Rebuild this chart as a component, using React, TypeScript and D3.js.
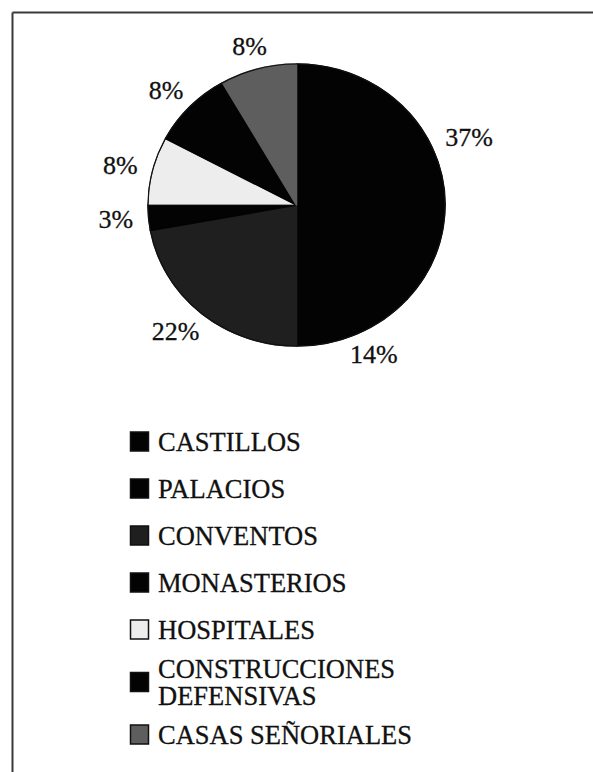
import React from "react";
import * as d3 from "d3";

const categories = [
  "CASTILLOS",
  "PALACIOS",
  "CONVENTOS",
  "MONASTERIOS",
  "HOSPITALES",
  "CONSTRUCCIONES DEFENSIVAS",
  "CASAS SEÑORIALES",
];
const values = [36.6, 13.4, 22.1, 2.9, 7.8, 8.9, 8.3];
const valueLabels = ["37%", "14%", "22%", "3%", "8%", "8%", "8%"];
const legendLines = [
  ["CASTILLOS"],
  ["PALACIOS"],
  ["CONVENTOS"],
  ["MONASTERIOS"],
  ["HOSPITALES"],
  ["CONSTRUCCIONES", "DEFENSIVAS"],
  ["CASAS SEÑORIALES"],
];
const colors = ["#030303", "#030303", "#1f1f1f", "#030303", "#ededed", "#030303", "#5e5e5e"];

const W = 593;
const H = 772;
const cx = 296.5;
const cy = 205;
const rx = 148.5;
const ry = 141;
const FONT = "'Liberation Serif', 'Times New Roman', serif";

export default function App() {
  const pie = d3.pie<number>().sort(null).value((d) => d)(values);
  const arc = d3.arc<d3.PieArcDatum<number>>().innerRadius(0).outerRadius(rx);
  const sy = ry / rx;

  const gapX = 16;
  const gapY = 12;
  const labels = pie.map((p, i) => {
    const a = (p.startAngle + p.endAngle) / 2;
    const s = Math.sin(a);
    const c = Math.cos(a);
    const halfW = valueLabels[i].length * 7.5 + 2;
    const halfH = 11;
    return {
      x: cx + s * (rx + gapX) + s * halfW,
      y: cy - c * (ry + gapY) - c * halfH,
      text: valueLabels[i],
    };
  });

  // legend layout
  const step = 47;
  const extraPerLine = 11;
  const legendY: number[] = [];
  let y = 441.5;
  legendLines.forEach((lines, i) => {
    if (i > 0) {
      const prevExtra = legendLines[i - 1].length - 1;
      const curExtra = lines.length - 1;
      y += step + 0.5 * (prevExtra + curExtra) * extraPerLine;
    }
    legendY.push(y);
  });
  const lineH = 27;

  return (
    <svg width={W} height={H} style={{ display: "block", position: "absolute", left: 0, top: 0 }}>
      <rect x={0} y={0} width={W} height={H} fill="#fff" />
      <line x1={12.5} y1={12.5} x2={W} y2={12.5} stroke="#3a3a3a" strokeWidth={2} />
      <line x1={12.5} y1={12.5} x2={12.5} y2={H} stroke="#3a3a3a" strokeWidth={2} />

      <g transform={`translate(${cx},${cy}) scale(1,${sy})`}>
        {pie.map((p, i) => (
          <path
            key={categories[i]}
            d={arc(p) || ""}
            fill={colors[i]}
            stroke={colors[i] === "#ededed" ? "#111" : colors[i]}
            strokeWidth={colors[i] === "#ededed" ? 0.8 : 1.6}
            strokeLinejoin="round"
            vectorEffect="non-scaling-stroke"
          />
        ))}
        <circle r={rx} fill="none" stroke="#111" strokeWidth={1.2} vectorEffect="non-scaling-stroke" />
      </g>

      {labels.map((l, i) => (
        <text
          key={i}
          x={l.x}
          y={l.y}
          textAnchor="middle"
          dominantBaseline="central"
          fontFamily={FONT}
          fontSize={26}
          fill="#111"
          stroke="#111"
          strokeWidth={0.3}
        >
          {l.text}
        </text>
      ))}

      {legendLines.map((lines, i) => {
        const yc = legendY[i];
        const n = lines.length;
        return (
          <g key={i}>
            <rect
              x={130.5}
              y={yc - 9.5}
              width={18}
              height={19}
              fill={colors[i]}
              stroke="#111"
              strokeWidth={1.5}
            />
            {lines.map((t, j) => (
              <text
                key={j}
                x={158}
                y={yc + (j - (n - 1) / 2) * lineH}
                dominantBaseline="central"
                fontFamily={FONT}
                fontSize={26.5}
                fill="#111"
                stroke="#111"
                strokeWidth={0.3}
              >
                {t}
              </text>
            ))}
          </g>
        );
      })}
    </svg>
  );
}
